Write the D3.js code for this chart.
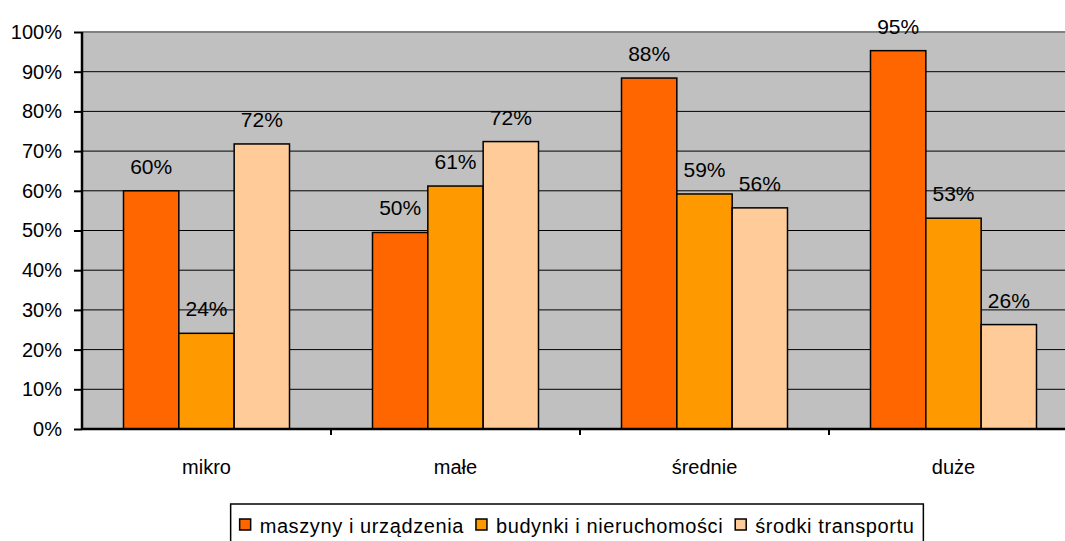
<!doctype html>
<html>
<head>
<meta charset="utf-8">
<script src="https://d3js.org/d3.v7.min.js"></script>
<style>
    body { margin: 0; background: #fff; }
    svg { display: block; font-family: "Liberation Sans", Arial, sans-serif; }
</style>
</head>
<body>
<svg id="chart" width="1065" height="541"></svg>
<script>
    // categories and series
    var categories = ["mikro", "małe", "średnie", "duże"];
    var seriesNames = ["maszyny i urządzenia", "budynki i nieruchomości", "środki transportu"];
    var seriesColors = ["#FF6600", "#FF9900", "#FFCC99"];

    // values in percent
    var maszyny = [60, 49.5, 88.4, 95.3];
    var budynki = [24.1, 61.2, 59.2, 53.1];
    var srodki = [71.8, 72.4, 55.7, 26.3];
    var yTicks = [0, 10, 20, 30, 40, 50, 60, 70, 80, 90, 100];

    var allSeries = [maszyny, budynki, srodki];

    var svg = d3.select("#chart");

    var plotLeft = 82, plotRight = 1078, plotTop = 32, plotBottom = 429;

    var x0 = d3.scaleBand().domain(categories).range([plotLeft, plotRight]).padding(0);
    // excel style gap: 150% of bar width
    var x1 = d3.scaleBand().domain(seriesNames).range([0, x0.bandwidth()])
        .paddingInner(0).paddingOuter(0.75);
    var y = d3.scaleLinear().domain([0, 100]).range([plotBottom, plotTop]);

    // plot background
    svg.append("rect")
        .attr("x", plotLeft).attr("y", plotTop)
        .attr("width", plotRight - plotLeft).attr("height", plotBottom - plotTop)
        .attr("fill", "#C0C0C0");
    svg.append("line")
        .attr("x1", plotLeft).attr("x2", plotRight)
        .attr("y1", plotTop).attr("y2", plotTop)
        .attr("stroke", "#808080").attr("stroke-width", 2);

    // gridlines
    svg.append("g")
        .selectAll("line")
        .data(yTicks.filter(d => d > 0 && d < 100))
        .enter()
        .append("line")
        .attr("x1", plotLeft).attr("x2", plotRight)
        .attr("y1", d => y(d)).attr("y2", d => y(d))
        .attr("stroke", "#000").attr("stroke-width", 1);

    // bars
    var groups = svg.append("g")
        .selectAll("g")
        .data(seriesNames)
        .enter()
        .append("g")
        .attr("fill", (d, i) => seriesColors[i]);

    groups.selectAll("rect")
        .data((s, i) => allSeries[i].map((v, j) => ({ s: s, c: categories[j], v: v })))
        .enter()
        .append("rect")
        .attr("x", d => x0(d.c) + x1(d.s))
        .attr("y", d => y(d.v))
        .attr("width", x1.bandwidth())
        .attr("height", d => y(0) - y(d.v))
        .attr("stroke", "#000")
        .attr("stroke-width", 1.5);

    // data labels
    groups.selectAll("text")
        .data((s, i) => allSeries[i].map((v, j) => ({ s: s, c: categories[j], v: v })))
        .enter()
        .append("text")
        .attr("x", d => x0(d.c) + x1(d.s) + x1.bandwidth() / 2)
        .attr("y", d => y(d.v) - 17)
        .attr("text-anchor", "middle")
        .attr("fill", "#000")
        .style("font-size", "21px")
        .text(d => Math.round(d.v) + "%");

    // y axis
    var yAxis = svg.append("g")
        .attr("transform", "translate(" + plotLeft + ",0)")
        .call(d3.axisLeft(y).tickValues(yTicks).tickSize(8).tickPadding(12)
            .tickFormat(d => d + "%"));
    yAxis.select(".domain").attr("stroke", "#000").attr("stroke-width", 2.5)
        .attr("d", "M0," + plotBottom + "V" + plotTop);
    yAxis.selectAll(".tick line").attr("stroke", "#000").attr("stroke-width", 2);
    yAxis.selectAll(".tick text").style("font-size", "20px").attr("fill", "#000")
        .style("font-family", "'Liberation Sans', Arial, sans-serif");

    // x axis
    var xAxis = svg.append("g")
        .attr("transform", "translate(0," + plotBottom + ")")
        .call(d3.axisBottom(x0).tickSize(0).tickPadding(31));
    xAxis.select(".domain").attr("stroke", "#000").attr("stroke-width", 2.5)
        .attr("d", "M" + plotLeft + ",0H" + plotRight);
    xAxis.selectAll(".tick text").style("font-size", "20px").attr("fill", "#000")
        .style("font-family", "'Liberation Sans', Arial, sans-serif");
    // category separators
    xAxis.append("g")
        .selectAll("line")
        .data(categories.slice(1))
        .enter()
        .append("line")
        .attr("x1", d => x0(d)).attr("x2", d => x0(d))
        .attr("y1", 0).attr("y2", 6)
        .attr("stroke", "#000").attr("stroke-width", 2);

    // legend
    var legend = svg.append("g");
    var legendBox = legend.append("rect")
        .attr("fill", "#fff").attr("stroke", "#000").attr("stroke-width", 1.5);
    var lx = 0;
    seriesNames.forEach(function (name, i) {
        legend.append("rect")
            .attr("x", lx).attr("y", 519)
            .attr("width", 11).attr("height", 11)
            .attr("fill", seriesColors[i])
            .attr("stroke", "#000").attr("stroke-width", 1.5);
        var t = legend.append("text")
            .attr("x", lx + 20).attr("y", 533)
            .style("font-size", "20px")
            .style("letter-spacing", "0.6px")
            .attr("fill", "#000")
            .text(name);
        lx = lx + 20 + t.node().getComputedTextLength() + 12;
    });
    var legendW = lx - 12;
    legendBox.attr("x", -9).attr("y", 504)
        .attr("width", legendW + 18).attr("height", 50);
    legend.attr("transform", "translate(" + (577 - legendW / 2) + ",0)");
</script>
</body>
</html>
